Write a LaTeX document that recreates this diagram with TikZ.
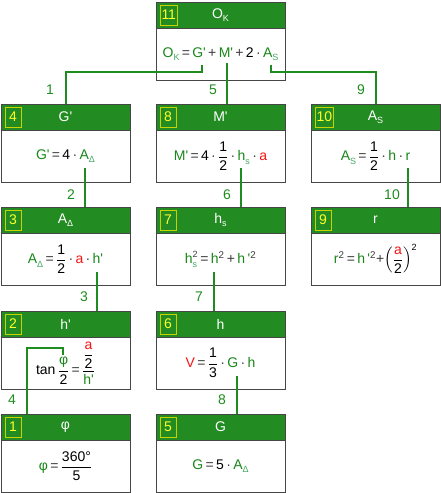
\documentclass[tikz,border=0pt]{standalone}
\usepackage{fontspec}
\setmainfont{Liberation Sans}
\usepackage{amsmath}
\definecolor{hdr}{RGB}{34,139,34}
\definecolor{ln}{RGB}{30,140,30}
\definecolor{vg}{RGB}{25,135,25}
\definecolor{sg}{RGB}{70,170,100}
\definecolor{rd}{RGB}{245,20,20}
\definecolor{bd}{RGB}{70,70,70}
\definecolor{ny}{RGB}{255,255,40}
\definecolor{nb}{RGB}{200,210,0}
\definecolor{opc}{RGB}{60,60,60}
\newcommand{\p}{\textquotesingle}
\newcommand{\V}[1]{\textcolor{vg}{#1}}
\newcommand{\R}[1]{\textcolor{rd}{#1}}
\newcommand{\Ss}[1]{\raisebox{-0.45ex}{\fontsize{9}{9}\selectfont #1}}
\newcommand{\sub}[1]{\Ss{\textcolor{sg}{#1}}}
\newcommand{\op}[1]{\,\textcolor{opc}{#1}\,}
\newcommand{\dt}{\,\textcolor{opc}{·}\,}
\newcommand{\Fr}[2]{$\displaystyle\frac{\mbox{#1}}{\mbox{#2}}$}
\newcommand{\sq}{\textsuperscript{\textcolor{opc}{2}}}
\newcommand{\mycard}[6]{%
 \node[cardbox] (#1) at (#2+64.5,#3+39) {};
 \node[cardhead,anchor=north] (#1h) at (#1.north) {};
 \node[cardnum,anchor=west] (#1n) at ([xshift=4pt]#1h.west) {#4};
 \node[headtxt] (#1t) at (#1h.center) {#5};
 \node[formula] (#1f) at (#2+64.5,#3+52) {#6};
}
\begin{document}
\begin{tikzpicture}[x=1pt,y=-1pt,
 every node/.style={font=\fontsize{14}{16}\selectfont},
 cardbox/.style={draw=bd, fill=white, line width=1pt, minimum width=129pt, minimum height=78pt, inner sep=0pt},
 cardhead/.style={draw=bd, fill=hdr, line width=1pt, minimum width=129pt, minimum height=26pt, inner sep=0pt},
 cardnum/.style={draw=nb, line width=1pt, text=ny, minimum width=16pt, minimum height=20pt, inner sep=1.5pt},
 headtxt/.style={text=white},
 formula/.style={text=black, inner sep=0pt},
 conn/.style={draw=ln, line width=2pt},
 lbl/.style={text=ln}]
\useasboundingbox (0,0) rectangle (441,493);

\mycard{b11}{156}{2}{11}{O\Ss{K}}{\V{O}\sub{K}\op{=}\V{G\p}\op{+}\V{M\p}\op{+}2\dt\V{A}\sub{S}}
\mycard{b4}{1}{104}{4}{G\p}{\V{G\p}\op{=}4\dt\V{A}\sub{Δ}}
\mycard{b8}{156}{104}{8}{M\p}{\V{M\p}\op{=}4\dt\Fr{1}{2}\dt\V{h}\sub{s}\dt\R{a}}
\mycard{b10}{311}{104}{10}{A\Ss{S}}{\V{A}\sub{S}\op{=}\Fr{1}{2}\dt\V{h}\dt\V{r}}
\mycard{b3}{1}{207}{3}{A\Ss{Δ}}{\V{A}\sub{Δ}\op{=}\Fr{1}{2}\dt\R{a}\dt\V{h\p}}
\mycard{b7}{156}{207}{7}{h\Ss{s}}{$\mbox{\V{h}}^{\mbox{\fontsize{9}{9}\selectfont\textcolor{opc}{2}}}_{\mbox{\fontsize{9}{9}\selectfont\textcolor{sg}{s}}}$\op{=}\V{h}\sq\op{+}\V{h}\,\V{\p}\sq}
\mycard{b9}{311}{207}{9}{r}{\V{r}\sq\op{=}\V{h}\,\V{\p}\sq\textcolor{opc}{+}$\displaystyle\left(\frac{\mbox{\R{a}}}{\mbox{2}}\right)^{\mbox{\fontsize{9}{9}\selectfont 2}}$}
\mycard{b2}{1}{311}{2}{h\p}{tan\,$\displaystyle\frac{\mbox{\V{φ}}}{\mbox{2}}$\op{=}$\displaystyle\frac{\dfrac{\mbox{\R{a}}}{\mbox{2}}}{\mbox{\V{h\p}}}$}
\mycard{b6}{156}{311}{6}{h}{\R{V}\op{=}\Fr{1}{3}\dt\V{G}\dt\V{h}}
\mycard{b1}{1}{414}{1}{φ}{\V{φ}\op{=}\Fr{360°}{5}}
\mycard{b5}{156}{414}{5}{G}{\V{G}\op{=}5\dt\V{A}\sub{Δ}}

% connector start points (under terms of the formulas)
\coordinate (s1) at (202,65);
\coordinate (s5) at (227,63);
\coordinate (s9) at (271,65);
\coordinate (s2) at (85,168);
\coordinate (s6) at (241,168);
\coordinate (s10) at (408,168);
\coordinate (s3) at (97,272);
\coordinate (s7) at (214,272);
\coordinate (s4) at (63,355);
\coordinate (s8) at (237,376);

\draw[conn] (s1) -- ++(0,7) -| (b4.north);
\draw[conn] (s5) -- (s5 |- b8.north);
\draw[conn] (s9) -- ++(0,7) -| (b10.north);
\draw[conn] (s2) -- (s2 |- b3.north);
\draw[conn] (s6) -- (s6 |- b7.north);
\draw[conn] (s10) -- (s10 |- b9.north);
\draw[conn] (s3) -- (s3 |- b2.north);
\draw[conn] (s7) -- (s7 |- b6.north);
\draw[conn] (s4) -- ++(0,-7) -- ++(-36,0) coordinate (k4) -- (k4 |- b1.north);
\draw[conn] (s8) -- (s8 |- b5.north);

\node[lbl] (l1) at (50,90) {1};
\node[lbl] (l5) at (213,90) {5};
\node[lbl] (l9) at (361,90) {9};
\node[lbl] (l2) at (71,195) {2};
\node[lbl] (l6) at (227,195) {6};
\node[lbl] (l10) at (392,195) {10};
\node[lbl] (l3) at (84,297) {3};
\node[lbl] (l7) at (199,297) {7};
\node[lbl] (l4) at (12,400) {4};
\node[lbl] (l8) at (222,400) {8};
\end{tikzpicture}
\end{document}
